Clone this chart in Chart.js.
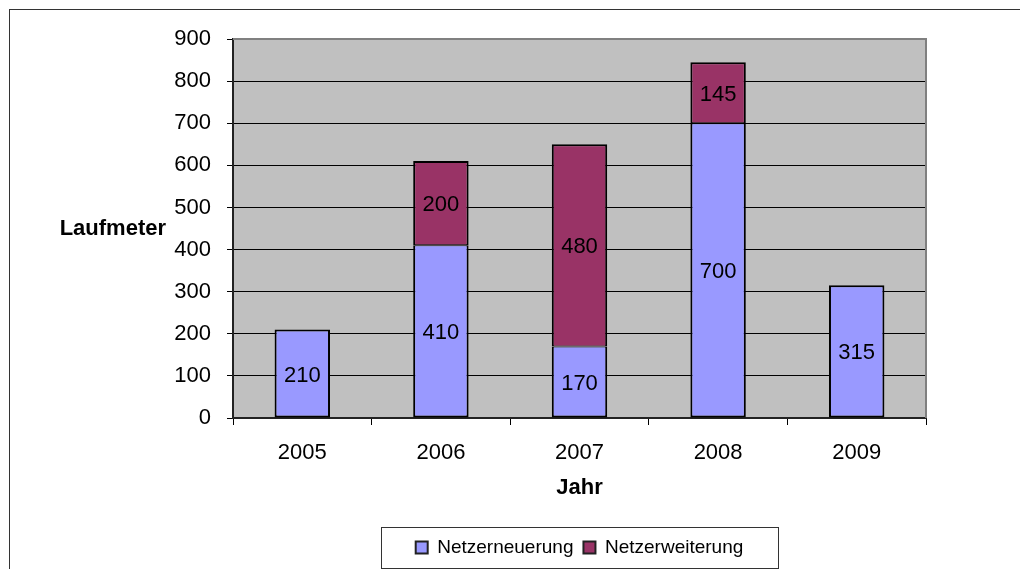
<!DOCTYPE html>
<html>
<head>
<meta charset="utf-8">
<script src="https://cdn.jsdelivr.net/npm/chart.js@4.4.0/dist/chart.umd.min.js"></script>
<style>
  html, body { margin: 0; padding: 0; background: #fff; overflow: hidden; }
  #chart { display: block; }
</style>
</head>
<body>
<canvas id="chart" width="1020" height="569"></canvas>
<script>
// Daten
const jahre = ['2005', '2006', '2007', '2008', '2009'];
const netzerneuerung = [210, 410, 170, 700, 315];
const netzerweiterung = [0, 200, 480, 145, 0];
const yMin = 0;
const yMax = 900;
const yStep = 100;

const FONT = "'Liberation Sans', Arial, sans-serif";
Chart.defaults.font.family = FONT;
Chart.defaults.color = '#000';

// Hintergrund der Zeichnungsfläche + äußerer Rahmen
const plotBackground = {
  id: 'plotBackground',
  beforeDraw(chart) {
    const { ctx, chartArea: a } = chart;
    ctx.save();
    ctx.strokeStyle = '#333';
    ctx.lineWidth = 1;
    ctx.strokeRect(9.5, 9.5, 1200, 800);
    ctx.fillStyle = '#C0C0C0';
    ctx.fillRect(a.left, a.top, a.right - a.left, a.bottom - a.top);
    ctx.restore();

    // Legende unter der Zeichnungsfläche zentrieren
    const lg = chart.legend;
    if (lg) {
      lg.left = a.left;
      lg.right = a.right;
      lg.width = a.right - a.left;
    }
  },
  beforeDatasetsDraw(chart) {
    const { ctx, chartArea: a } = chart;
    ctx.save();
    ctx.strokeStyle = '#808080';
    ctx.lineWidth = 2;
    ctx.beginPath();
    ctx.moveTo(a.left, a.top);
    ctx.lineTo(a.right, a.top);
    ctx.lineTo(a.right, a.bottom);
    ctx.stroke();
    ctx.restore();
  },
  afterDraw(chart) {
    const { ctx, chartArea: a } = chart;
    ctx.save();
    // Achsentitel "Laufmeter" waagerecht
    ctx.font = 'bold 22px ' + FONT;
    ctx.fillStyle = '#000';
    ctx.textAlign = 'right';
    ctx.textBaseline = 'middle';
    ctx.fillText('Laufmeter', 166, (a.top + a.bottom) / 2);

    // Rahmen um die Legende
    const lg = chart.legend;
    if (lg && lg.lineWidths && lg.lineWidths.length) {
      const pad = lg.options.labels.padding;
      const lw = lg.lineWidths[0];
      const start = (lg.left + pad + lg.right - lw) / 2;
      const end = start + lw - pad;
      const cy = lg.top + pad + 19 / 2;
      ctx.strokeStyle = '#333';
      ctx.lineWidth = 1;
      const l = Math.round(start - 35) + 0.5;
      const r = Math.round(end + 35) + 0.5;
      const t = Math.round(cy - 21) + 0.5;
      const b = Math.round(cy + 20) + 0.5;
      ctx.strokeRect(l, t, r - l, b - t);
    }
    ctx.restore();
  }
};

// Werte in die Balken schreiben
const barLabels = {
  id: 'barLabels',
  afterDatasetsDraw(chart) {
    const { ctx } = chart;
    ctx.save();
    ctx.font = '22px ' + FONT;
    ctx.fillStyle = '#000';
    ctx.textAlign = 'center';
    ctx.textBaseline = 'middle';
    chart.data.datasets.forEach((ds, i) => {
      const meta = chart.getDatasetMeta(i);
      meta.data.forEach((bar, j) => {
        const v = ds.data[j];
        if (!v) return;
        ctx.fillText(String(v), bar.x, (bar.y + bar.base) / 2 + 2);
      });
    });
    ctx.restore();
  }
};

new Chart(document.getElementById('chart'), {
  type: 'bar',
  data: {
    labels: jahre,
    datasets: [
      {
        label: 'Netzerneuerung',
        data: netzerneuerung,
        backgroundColor: '#9999FF',
        borderColor: '#000',
        borderWidth: (c) => (netzerweiterung[c.dataIndex] > 0
          ? { top: 1, bottom: 2, left: 2, right: 2 } : 2),
        borderSkipped: false
      },
      {
        label: 'Netzerweiterung',
        data: netzerweiterung,
        backgroundColor: '#993366',
        borderColor: '#000',
        borderWidth: { top: 2, bottom: 1, left: 2, right: 2 },
        borderSkipped: false
      }
    ]
  },
  options: {
    responsive: false,
    animation: false,
    layout: { padding: { left: 0, top: 39, right: 94, bottom: 2 } },
    datasets: {
      bar: { barPercentage: 0.4, categoryPercentage: 1 }
    },
    plugins: {
      legend: {
        position: 'bottom',
        labels: {
          boxWidth: 12,
          boxHeight: 12,
          padding: 10,
          color: '#000',
          font: { size: 19 },
          generateLabels(chart) {
            return chart.data.datasets.map((ds, i) => ({
              text: ds.label,
              fillStyle: ds.backgroundColor,
              strokeStyle: '#222',
              lineWidth: 2,
              hidden: false,
              datasetIndex: i,
              fontColor: '#000'
            }));
          }
        }
      },
      tooltip: { enabled: false }
    },
    scales: {
      x: {
        stacked: true,
        grid: {
          drawOnChartArea: false,
          tickLength: 7,
          tickColor: '#000'
        },
        border: { color: '#222', width: 2 },
        ticks: { padding: 15, font: { size: 22 }, color: '#000' },
        title: {
          display: true,
          text: 'Jahr',
          font: { size: 22, weight: 'bold', lineHeight: 1.2 },
          color: '#000',
          padding: { top: 0, bottom: 27 }
        },
        afterFit(scale) {
          const ch = scale.chart;
          scale.height = ch.height - 418 - ch.legend.height - 2;
        }
      },
      y: {
        stacked: true,
        min: yMin,
        max: yMax,
        grid: {
          color: (c) => (c.tick && c.tick.value === yMax ? '#808080' : '#000'),
          lineWidth: 1,
          tickLength: 6,
          tickColor: '#000'
        },
        border: { color: '#222', width: 2 },
        ticks: { stepSize: yStep, padding: 16, font: { size: 22 }, color: '#000' },
        afterFit(scale) {
          scale.width = 233;
        }
      }
    }
  },
  plugins: [plotBackground, barLabels]
});
</script>
</body>
</html>
